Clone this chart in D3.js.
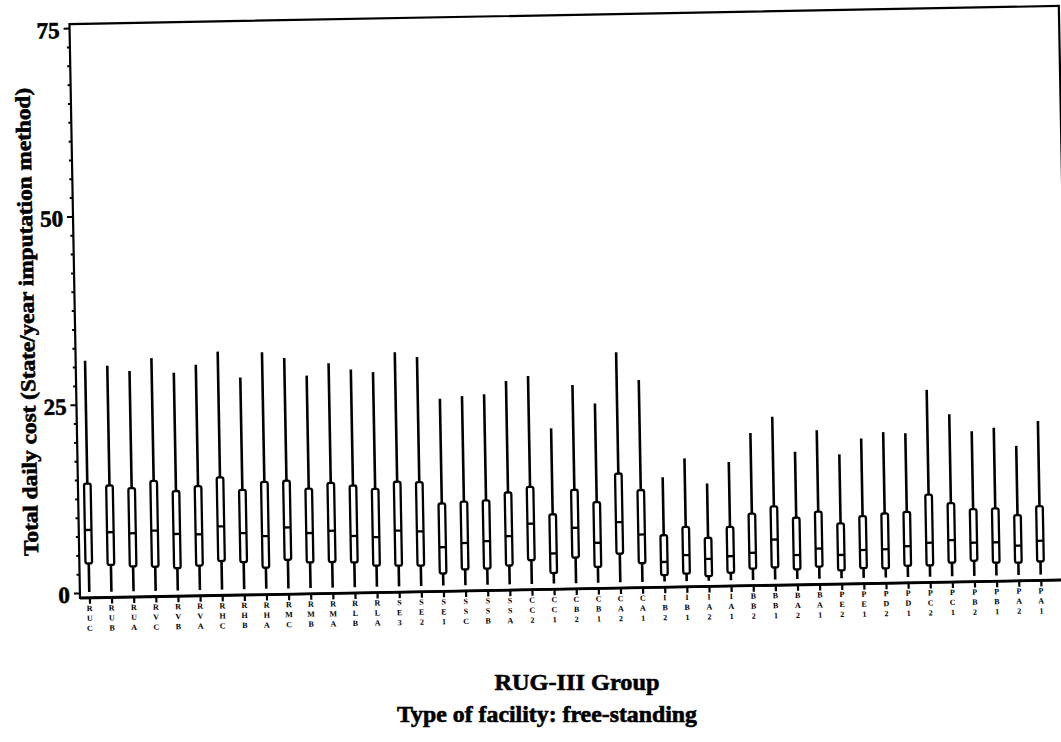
<!DOCTYPE html>
<html>
<head>
<meta charset="utf-8">
<script src="https://cdn.jsdelivr.net/npm/d3@7/dist/d3.min.js"></script>
<style>
body { margin: 0; background: #fff; }
text { font-family: "Liberation Serif", "Times New Roman", serif; font-weight: bold; fill: #000; }
.heavy { stroke: #000; stroke-width: 0.6px; }
</style>
</head>
<body>
<svg id="chart" width="1061" height="742"></svg>
<script>
// RUG-III groups, left to right
var groups = ["RUC","RUB","RUA","RVC","RVB","RVA","RHC","RHB","RHA","RMC","RMB","RMA","RLB","RLA",
  "SE3","SE2","SE1","SSC","SSB","SSA","CC2","CC1","CB2","CB1","CA2","CA1",
  "IB2","IB1","IA2","IA1","BB2","BB1","BA2","BA1",
  "PE2","PE1","PD2","PD1","PC2","PC1","PB2","PB1","PA2","PA1"];

// box plot stats (daily cost)
var whiskerHigh = [30.8,30.1,29.35,31.0,29.0,30.0,31.7,28.2,31.5,30.7,28.3,29.9,29.0,28.6,
  31.2,30.5,24.9,25.2,25.4,27.1,27.7,20.7,26.4,23.9,30.65,26.9,
  13.95,16.4,13.0,15.8,19.6,21.7,17.0,19.8,
  16.55,18.6,19.4,19.2,24.9,21.6,19.3,19.7,17.25,20.5];
var q3 = [14.5,14.2,13.8,14.7,13.3,13.9,15.0,13.3,14.3,14.4,13.3,14.0,13.6,13.1,
  14.0,13.9,11.0,11.2,11.3,12.3,13.0,9.3,12.5,10.8,14.55,12.3,
  6.25,7.3,5.8,7.2,8.9,9.8,8.25,9.0,
  7.4,8.3,8.6,8.75,11.0,9.8,8.95,9.0,8.05,9.2];
var median = [8.35,8.0,7.8,8.1,7.6,7.5,8.5,7.55,7.1,8.2,7.4,7.65,6.9,6.7,
  7.5,7.35,5.2,5.7,5.9,6.5,8.1,4.1,7.45,5.4,8.1,6.4,
  2.7,3.55,3.0,3.3,3.7,5.4,3.3,4.1,
  3.2,3.8,3.85,4.2,4.6,4.9,4.5,4.5,4.0,4.6];
var q1 = [3.9,3.65,3.4,3.3,3.05,3.35,3.9,3.7,2.9,3.9,3.5,3.5,3.4,2.9,
  2.85,2.8,1.7,2.2,2.25,2.6,3.25,1.5,3.5,2.2,3.9,2.6,
  0.95,1.1,0.7,1.1,1.6,1.7,1.4,1.7,
  1.15,1.4,1.3,1.6,1.6,1.9,2.1,1.8,1.75,1.85];
var whiskerLow = [0.1,0.1,0.1,0.1,0.1,0.1,0.1,0.1,0.1,0.1,0.1,0.1,0.1,0.1,
  0.1,0.1,0.1,0.1,0.1,0.1,0.1,0.1,0.1,0.1,0.1,0.1,
  0.1,0.1,0.1,0.1,0.1,0.1,0.1,0.1,
  0.1,0.1,0.1,0.1,0.1,0.1,0.1,0.1,0.1,0.1];

var yMajor = [0, 25, 50, 75];
var yMinor = [2.5,5,7.5,10,12.5,15,17.5,20,22.5,27.5,30,32.5,35,37.5,40,42.5,45,47.5,52.5,55,57.5,60,62.5,65,67.5,70,72.5];

var width = 1061, height = 742;
var fLeft = 80, fRight = 1069.5, fTop = 24, fBottom = 598;

var svg = d3.select("#chart");
svg.append("rect").attr("width", width).attr("height", height).attr("fill", "#fff");

// the scanned page sits about one degree off level
var g = svg.append("g").attr("transform", "rotate(-1.05," + fLeft + "," + fBottom + ")");

var y = d3.scaleLinear().domain([0, 75]).range([593, 28]);
var x = d3.scalePoint().domain(groups).range([89.4, 89.4 + 43 * 22.13]);

// frame
g.append("rect")
  .attr("x", fLeft).attr("y", fTop)
  .attr("width", fRight - fLeft).attr("height", fBottom - fTop)
  .attr("fill", "none").attr("stroke", "#000").attr("stroke-width", 2.2);
g.append("line")
  .attr("x1", fLeft).attr("x2", fRight).attr("y1", fBottom).attr("y2", fBottom)
  .attr("stroke", "#000").attr("stroke-width", 2.8);

// y axis
var yMin = g.append("g").attr("transform", "translate(" + fLeft + ",0)")
  .call(d3.axisLeft(y).tickValues(yMinor).tickSize(3).tickFormat(""));
yMin.select(".domain").remove();
yMin.selectAll("line").attr("stroke-width", 2);

var yAx = g.append("g").attr("transform", "translate(" + fLeft + ",0)")
  .call(d3.axisLeft(y).tickValues(yMajor).tickSize(6).tickPadding(4));
yAx.select(".domain").remove();
yAx.selectAll("line").attr("stroke-width", 2);
yAx.selectAll("text")
  .attr("class", "heavy")
  .style("font-family", "'Liberation Serif', serif")
  .style("font-weight", "bold")
  .style("font-size", "23px")
  .attr("dy", "0.4em");

// x axis
var xAx = g.append("g").attr("transform", "translate(0," + fBottom + ")")
  .call(d3.axisBottom(x).tickSize(6).tickFormat(""));
xAx.select(".domain").remove();
xAx.selectAll("line").attr("stroke-width", 2.2);

// vertical stacked group codes
var lab = g.append("g").selectAll("text")
  .data(groups)
  .enter()
  .append("text")
  .attr("x", function(d) { return x(d); })
  .attr("y", fBottom + 13)
  .attr("text-anchor", "middle")
  .style("font-size", "8px");
lab.selectAll("tspan")
  .data(function(d) { return d.split(""); })
  .enter()
  .append("tspan")
  .attr("x", function() { return d3.select(this.parentNode).attr("x"); })
  .attr("dy", function(c, i) { return i == 0 ? 0 : 10; })
  .text(function(c) { return c; });

// boxes
var bw = 6.6;
var box = g.selectAll("g.box")
  .data(groups)
  .enter()
  .append("g")
  .attr("class", "box");
box.append("line")
  .attr("x1", function(d) { return x(d); })
  .attr("x2", function(d) { return x(d); })
  .attr("y1", function(d, i) { return y(whiskerHigh[i]); })
  .attr("y2", function(d, i) { return y(q3[i]); })
  .attr("stroke", "#000").attr("stroke-width", 2.6);
box.append("line")
  .attr("x1", function(d) { return x(d); })
  .attr("x2", function(d) { return x(d); })
  .attr("y1", function(d, i) { return y(q1[i]); })
  .attr("y2", function(d, i) { return y(whiskerLow[i]); })
  .attr("stroke", "#000").attr("stroke-width", 2.6);
box.append("rect")
  .attr("x", function(d) { return x(d) - bw / 2; })
  .attr("width", bw)
  .attr("y", function(d, i) { return y(q3[i]); })
  .attr("height", function(d, i) { return y(q1[i]) - y(q3[i]); })
  .attr("rx", 2)
  .attr("fill", "#fff").attr("stroke", "#000").attr("stroke-width", 2.3);
box.append("line")
  .attr("x1", function(d) { return x(d) - bw / 2; })
  .attr("x2", function(d) { return x(d) + bw / 2; })
  .attr("y1", function(d, i) { return y(median[i]); })
  .attr("y2", function(d, i) { return y(median[i]); })
  .attr("stroke", "#000").attr("stroke-width", 2.3);

// y axis title
g.append("text")
  .attr("class", "heavy")
  .attr("transform", "translate(39,321) rotate(-90)")
  .attr("text-anchor", "middle")
  .attr("textLength", 468)
  .attr("lengthAdjust", "spacingAndGlyphs")
  .style("font-size", "21px")
  .text("Total daily cost (State/year imputation method)");

// x axis title and footnote
svg.append("text")
  .attr("class", "heavy")
  .attr("x", 577).attr("y", 690)
  .attr("text-anchor", "middle")
  .attr("textLength", 165)
  .attr("lengthAdjust", "spacingAndGlyphs")
  .style("font-size", "24px")
  .text("RUG-III Group");
svg.append("text")
  .attr("class", "heavy")
  .attr("x", 547).attr("y", 722)
  .attr("text-anchor", "middle")
  .attr("textLength", 300)
  .attr("lengthAdjust", "spacingAndGlyphs")
  .style("font-size", "23px")
  .text("Type of facility: free-standing");
</script>
</body>
</html>
